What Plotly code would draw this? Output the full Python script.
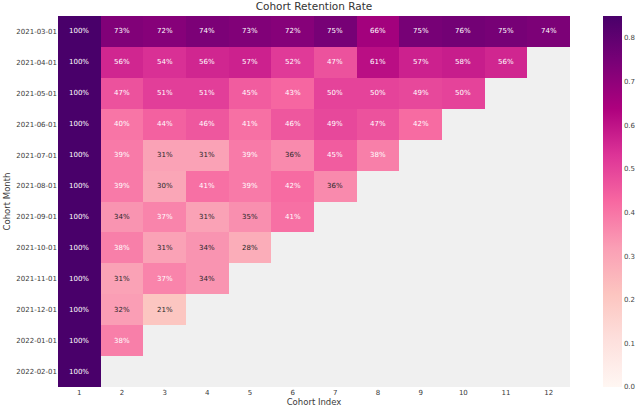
import plotly.graph_objects as go

cohort_months = ['2021-03-01', '2021-04-01', '2021-05-01', '2021-06-01', '2021-07-01', '2021-08-01',
                 '2021-09-01', '2021-10-01', '2021-11-01', '2021-12-01', '2022-01-01', '2022-02-01']
cohort_index = [1, 2, 3, 4, 5, 6, 7, 8, 9, 10, 11, 12]

# retention rate per cohort month, from index 1 onward
retention = [
    [1.00, 0.73, 0.72, 0.74, 0.73, 0.72, 0.75, 0.66, 0.75, 0.76, 0.75, 0.74],
    [1.00, 0.56, 0.54, 0.56, 0.57, 0.52, 0.47, 0.61, 0.57, 0.58, 0.56],
    [1.00, 0.47, 0.51, 0.51, 0.45, 0.43, 0.50, 0.50, 0.49, 0.50],
    [1.00, 0.40, 0.44, 0.46, 0.41, 0.46, 0.49, 0.47, 0.42],
    [1.00, 0.39, 0.31, 0.31, 0.39, 0.36, 0.45, 0.38],
    [1.00, 0.39, 0.30, 0.41, 0.39, 0.42, 0.36],
    [1.00, 0.34, 0.37, 0.31, 0.35, 0.41],
    [1.00, 0.38, 0.31, 0.34, 0.28],
    [1.00, 0.31, 0.37, 0.34],
    [1.00, 0.32, 0.21],
    [1.00, 0.38],
    [1.00],
]

FONT = 'DejaVu Sans'

z = [row + [None] * (len(cohort_index) - len(row)) for row in retention]

fig = go.Figure(go.Heatmap(
    z=z, x=cohort_index, y=cohort_months,
    colorscale='RdPu', zmin=0, zmax=0.85,
    hoverongaps=False,
    colorbar=dict(
        thickness=19, len=1, lenmode='fraction',
        xref='container', x=0.942, xanchor='left', xpad=0, ypad=0,
        y=0.5, yanchor='middle', outlinewidth=0,
        tickvals=[0, 0.1, 0.2, 0.3, 0.4, 0.5, 0.6, 0.7, 0.8], tickformat='.1f',
        ticks='', tickfont=dict(size=7, color='#444', family=FONT),
    ),
))

# cell labels, dark text on light cells like seaborn does
annotations = []
for month, row in zip(cohort_months, retention):
    for idx, v in zip(cohort_index, row):
        annotations.append(dict(
            x=idx, y=month, text='{:.0%}'.format(v), showarrow=False,
            font=dict(size=7, family=FONT, color='#262626' if v < 0.365 else 'white'),
        ))

fig.update_layout(
    width=640, height=413,
    margin=dict(l=58, r=70, t=16, b=26),
    paper_bgcolor='white', plot_bgcolor='#f0f0f0',
    font=dict(family=FONT, color='#3a3a3a'),
    title=dict(text='Cohort Retention Rate', x=0.5, xref='paper', xanchor='center',
               y=1, yref='container', yanchor='top', pad=dict(t=3),
               font=dict(size=10.5, color='#333')),
    annotations=annotations,
)
fig.update_xaxes(tickvals=cohort_index, ticks='', showgrid=False, zeroline=False, automargin=False,
                 tickfont=dict(size=7), title=dict(text='Cohort Index', font=dict(size=8.5), standoff=2),
                 range=[0.5, 12.5])
fig.update_yaxes(type='category', autorange='reversed', ticks='', showgrid=False, zeroline=False,
                 automargin=False, tickfont=dict(size=7),
                 title=dict(text='Cohort Month', font=dict(size=8.5), standoff=4))

# page body has a default 8px margin, drop it so the figure sits at the window corner
fig.write_html('out.html', config={'displayModeBar': False},
               post_script="document.body.style.margin='0';")
